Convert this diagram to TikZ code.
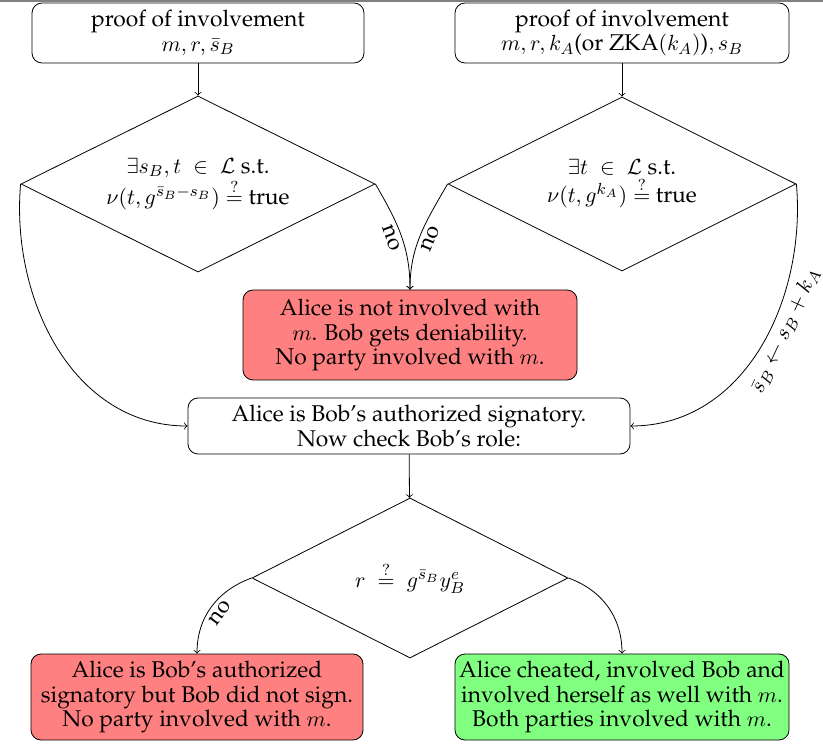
\documentclass[tikz,border=0pt]{standalone}
\usepackage[T1]{fontenc}
\usepackage{palatino}
\usetikzlibrary{shapes.geometric}

\begin{document}
\begin{tikzpicture}
[x=0.5pt,y=-0.5pt,%
  every node/.style={align=center,inner sep=2pt,font=\fontsize{11.4}{12.4}\selectfont},%
  infobox/.style={shape=rectangle,rounded corners=5pt,draw,minimum width=166pt,minimum height=30pt},%
  verdict/.style={infobox,minimum height=43pt},%
  check/.style={shape=diamond,draw,inner sep=0pt,shape aspect=2},%
  nolabel/.style={sloped,below}]
\useasboundingbox (0,0) rectangle (823,747);
\draw[gray,line width=1pt] (0,1) -- (823,1);
% inputs
\node[infobox,fill=white] (proofL) at (198,33) {proof of involvement\\ $m,r,\bar{s}_B$};
\node[infobox,fill=white,minimum width=167pt] (proofR) at (622,33) {proof of involvement\\ $m,r,k_A$(or ZKA$(k_A)$)$,s_B$};
% first checks
\node[check,minimum width=177pt,minimum height=88pt] (chkL) at (198,184)
  {$\exists s_B,t\;\in\;\mathcal{L}$ s.t.\\ $\nu(t,g^{\bar{s}_B-s_B})\stackrel{?}{=}$ true};
\node[check,minimum width=174pt,minimum height=87pt] (chkR) at (622,184)
  {$\exists t\;\in\;\mathcal{L}$ s.t.\\ $\nu(t,g^{k_A})\stackrel{?}{=}$ true};
\node[verdict,fill=red!50,minimum height=45pt,minimum width=167pt] (notinv) at (410,335)
  {Alice is not involved with\\ $m$. Bob gets deniability.\\ No party involved with $m$.};
\node[infobox,minimum width=221pt,minimum height=28pt] (signatory) at (409,426)
  {Alice is Bob's authorized signatory.\\ Now check Bob's role:};
% second check
\node[check,minimum width=158pt,minimum height=80pt] (chkB) at (410,578)
  {$r\;\stackrel{?}{=}\;g^{\bar{s}_B}y_B^e$};
\node[verdict,fill=red!50] (nosign) at (197,697)
  {Alice is Bob's authorized\\ signatory but Bob did not sign.\\ No party involved with $m$.};
\node[verdict,fill=green!50,minimum width=167pt] (cheat) at (622,697)
  {Alice cheated, involved Bob and\\ involved herself as well with $m$.\\ Both parties involved with $m$.};
\path[->]
(proofL) edge (chkL)
(proofR) edge (chkR)
(chkL.east) edge[out=-60,in=90] node[nolabel] {no} (notinv.north)
(chkR.west) edge[out=-120,in=90] node[nolabel] {no} (notinv.north)
(chkL.west) edge[out=-95,in=180] (signatory.west)
(chkR.east) edge[out=-85,in=0] node[sloped,below,pos=0.42] {$\bar{s}_B\leftarrow s_B+k_A$} (signatory.east)
(signatory) edge (chkB)
(chkB.west) edge[out=200,in=90] node[nolabel] {no} (nosign.north)
(chkB.east) edge[out=-20,in=90] (cheat.north);
\end{tikzpicture}
\end{document}
